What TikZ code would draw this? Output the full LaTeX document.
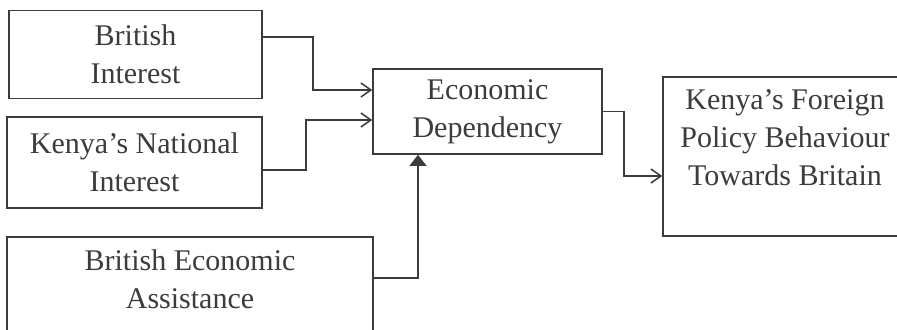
\documentclass[tikz,border=0pt]{standalone}
\usepackage{fontspec}
\setmainfont{Liberation Serif}
\usetikzlibrary{arrows.meta}

\definecolor{ink}{HTML}{3C3C3C}

\tikzset{
  box/.style={draw=ink, line width=1.3pt, inner sep=0pt, align=center},
  lbl/.style={align=center, inner xsep=0pt, inner ysep=0.4cm},
  link/.style={draw=ink, line width=1.3pt, -{Straight Barb[length=0.3cm,width=0.42cm]}},
  uplink/.style={draw=ink, line width=1.3pt, -{Triangle[length=0.33cm,width=0.5cm]}},
}

\begin{document}
\begin{tikzpicture}[x=0.03cm, y=-0.03cm, font=\fontsize{25.6pt}{32.4pt}\selectfont, text=ink]
    \clip (0,0) rectangle (897,329);
    \fill[white] (0,0) rectangle (897,329);

    % left column
    \node[box, minimum width=7.59cm, minimum height=2.64cm] (bi) at (135.5,54.5) {British\\Interest};
    \node[box, minimum width=7.65cm, minimum height=2.73cm] (kni) at (134.5,162.5) {Kenya's National\\Interest};
    \node[box, minimum width=10.98cm, minimum height=3.69cm] (bea) at (190,298.5) {};
    \node[lbl, anchor=north] (beatxt) at (bea.north) {British Economic\\Assistance};

    % middle and right
    \node[box, minimum width=6.87cm, minimum height=2.55cm] (ed) at (487.5,111.5) {Economic\\Dependency};
    \node[box, minimum width=7.32cm, minimum height=4.77cm] (kf) at (785,156.5) {};
    \node[lbl, anchor=north] (kftxt) at (kf.north) {Kenya's Foreign\\Policy Behaviour\\Towards Britain};

    \draw[link] ([yshift=0.52cm]bi.east) -- ++(50,0) |- ([yshift=0.645cm]ed.west);
    \draw[link] ([yshift=-0.225cm]kni.east) -- ++(43,0) |- ([yshift=-0.255cm]ed.west);
    \draw[uplink] ([yshift=0.615cm]bea.east) -| ([xshift=-2.085cm]ed.south);
    \draw[link] (ed.east) -- ++(21,0) |- ([yshift=-0.585cm]kf.west);
\end{tikzpicture}
\end{document}
